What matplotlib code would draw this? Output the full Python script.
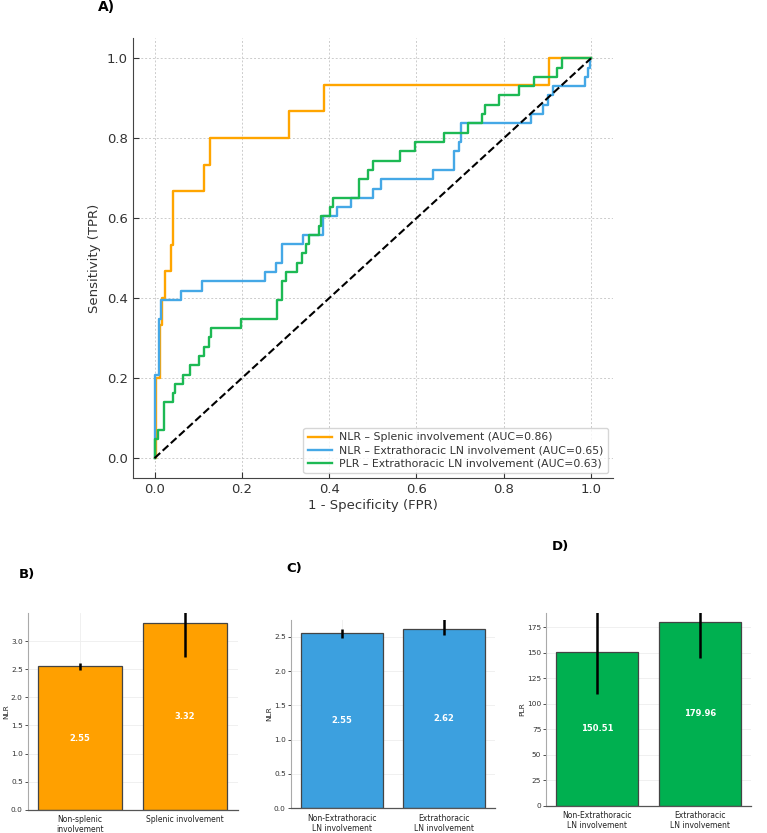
import matplotlib
matplotlib.use("Agg")
import matplotlib.pyplot as plt
import numpy as np

plt.rcParams['font.family'] = ['DejaVu Sans']

# ---------------- ROC data (corner points) ----------------
nlr_spl_fpr = [0, 0.003, 0.003, 0.012, 0.012, 0.018, 0.018, 0.024, 0.024, 0.038, 0.038, 0.042, 0.042,
               0.113, 0.113, 0.127, 0.127, 0.308, 0.308, 0.388, 0.388, 0.904, 0.904, 1.0]
nlr_spl_tpr = [0, 0, 0.200, 0.200, 0.333, 0.333, 0.400, 0.400, 0.467, 0.467, 0.533, 0.533, 0.667,
               0.667, 0.733, 0.733, 0.800, 0.800, 0.867, 0.867, 0.933, 0.933, 1.0, 1.0]

nlr_ext_fpr = [0, 0, 0.011, 0.011, 0.016, 0.016, 0.060, 0.060, 0.108, 0.108, 0.252, 0.252, 0.279, 0.279,
               0.291, 0.291, 0.340, 0.340, 0.386, 0.386, 0.418, 0.418, 0.451, 0.451, 0.500, 0.500,
               0.519, 0.519, 0.638, 0.638, 0.686, 0.686, 0.697, 0.697, 0.702, 0.702, 0.863, 0.863,
               0.891, 0.891, 0.902, 0.902, 0.912, 0.912, 0.986, 0.986, 0.992, 0.992, 0.998, 0.998, 1.0]
nlr_ext_tpr = [0, 0.209, 0.209, 0.349, 0.349, 0.395, 0.395, 0.419, 0.419, 0.442, 0.442, 0.465, 0.465, 0.488,
               0.488, 0.535, 0.535, 0.558, 0.558, 0.605, 0.605, 0.628, 0.628, 0.651, 0.651, 0.674,
               0.674, 0.698, 0.698, 0.721, 0.721, 0.767, 0.767, 0.791, 0.791, 0.837, 0.837, 0.860,
               0.860, 0.884, 0.884, 0.907, 0.907, 0.930, 0.930, 0.953, 0.953, 0.977, 0.977, 1.0, 1.0]

plr_ext_fpr = [0, 0, 0.008, 0.008, 0.021, 0.021, 0.043, 0.043, 0.048, 0.048, 0.066, 0.066, 0.082, 0.082,
               0.103, 0.103, 0.113, 0.113, 0.124, 0.124, 0.130, 0.130, 0.199, 0.199, 0.281, 0.281,
               0.292, 0.292, 0.302, 0.302, 0.327, 0.327, 0.338, 0.338, 0.347, 0.347, 0.355, 0.355,
               0.376, 0.376, 0.381, 0.381, 0.401, 0.401, 0.408, 0.408, 0.468, 0.468, 0.489, 0.489,
               0.500, 0.500, 0.563, 0.563, 0.597, 0.597, 0.664, 0.664, 0.719, 0.719, 0.751, 0.751,
               0.756, 0.756, 0.789, 0.789, 0.836, 0.836, 0.870, 0.870, 0.921, 0.921, 0.934, 0.934, 1.0]
plr_ext_tpr = [0, 0.047, 0.047, 0.070, 0.070, 0.140, 0.140, 0.163, 0.163, 0.186, 0.186, 0.209, 0.209, 0.233,
               0.233, 0.256, 0.256, 0.279, 0.279, 0.302, 0.302, 0.326, 0.326, 0.349, 0.349, 0.395,
               0.395, 0.442, 0.442, 0.465, 0.465, 0.488, 0.488, 0.512, 0.512, 0.535, 0.535, 0.558,
               0.558, 0.581, 0.581, 0.605, 0.605, 0.628, 0.628, 0.651, 0.651, 0.698, 0.698, 0.721,
               0.721, 0.744, 0.744, 0.767, 0.767, 0.791, 0.791, 0.814, 0.814, 0.837, 0.837, 0.860,
               0.860, 0.884, 0.884, 0.907, 0.907, 0.930, 0.930, 0.953, 0.953, 0.977, 0.977, 1.0, 1.0]

roc_labels = ["NLR – Splenic involvement (AUC=0.86)",
              "NLR – Extrathoracic LN involvement (AUC=0.65)",
              "PLR – Extrathoracic LN involvement (AUC=0.63)"]

# ---------------- Bar data ----------------
b_cats = ["Non-splenic\ninvolvement", "Splenic involvement"]
b_vals = [2.55, 3.32]
b_lo = [2.49, 2.71]
b_hi = [2.62, 3.60]

c_cats = ["Non-Extrathoracic\nLN involvement", "Extrathoracic\nLN involvement"]
c_vals = [2.55, 2.62]
c_lo = [2.49, 2.52]
c_hi = [2.62, 2.80]

d_cats = ["Non-Extrathoracic\nLN involvement", "Extrathoracic\nLN involvement"]
d_vals = [150.51, 179.96]
d_lo = [110.0, 145.0]
d_hi = [195.0, 195.0]

ORANGE = '#FFA000'
BLUE = '#3CA0DF'
GREEN = '#00B050'

fig = plt.figure(figsize=(7.67, 8.33), dpi=100)

# ---------------- Panel A ----------------
ax = fig.add_axes([0.173, 0.426, 0.626, 0.528])
ax.plot(nlr_spl_fpr, nlr_spl_tpr, color='#FFA500', lw=1.7, label=roc_labels[0])
ax.plot(nlr_ext_fpr, nlr_ext_tpr, color='#45A8E6', lw=1.7, label=roc_labels[1])
ax.plot(plr_ext_fpr, plr_ext_tpr, color='#1DB954', lw=1.7, label=roc_labels[2])
ax.plot([0, 1], [0, 1], color='black', lw=1.5, ls='--')
ax.set_xlim(-0.05, 1.05)
ax.set_ylim(-0.05, 1.05)
ax.set_xticks([0, 0.2, 0.4, 0.6, 0.8, 1.0])
ax.set_yticks([0, 0.2, 0.4, 0.6, 0.8, 1.0])
ax.grid(True, color='#cccccc', ls=(0, (2, 2)), lw=0.7)
ax.set_axisbelow(True)
for s in ['top', 'right']:
    ax.spines[s].set_visible(False)
for s in ['left', 'bottom']:
    ax.spines[s].set_color('#444444')
ax.tick_params(direction='in', labelsize=9.5, colors='#333333', length=4)
ax.set_xlabel("1 - Specificity (FPR)", fontsize=9.5, color='#333333', labelpad=2)
ax.set_ylabel("Sensitivity (TPR)", fontsize=9.5, color='#333333', labelpad=4)
leg = ax.legend(loc='lower right', fontsize=7.8, frameon=True, borderaxespad=0.45,
                handlelength=2.2, handletextpad=0.7, labelspacing=0.3, borderpad=0.4)
leg.get_frame().set_edgecolor('#cccccc')
for t in leg.get_texts():
    t.set_color('#333333')
fig.text(0.128, 0.991, "A)", fontsize=10, fontweight='bold', va='center', ha='left')


def bar_panel(rect, cats, vals, lo, hi, color, ylabel, ylim, yticks, fmt):
    a = fig.add_axes(rect)
    x = np.arange(len(cats))
    a.bar(x, vals, width=0.8, color=color, edgecolor='#444444', linewidth=0.9, zorder=2)
    yerr = [np.array(vals) - np.array(lo), np.array(hi) - np.array(vals)]
    a.errorbar(x, vals, yerr=yerr, fmt='none', ecolor='black', elinewidth=1.8, capsize=0, zorder=3)
    for xi, v in zip(x, vals):
        a.text(xi, v / 2, fmt.format(v), color='white', fontsize=6, fontweight='bold',
               ha='center', va='center', zorder=4)
    a.set_xlim(-0.5, 1.5)
    a.set_ylim(*ylim)
    a.set_yticks(yticks)
    a.set_xticks(x)
    a.set_xticklabels(cats, fontsize=5.5, color='#222222', linespacing=1.15)
    a.tick_params(axis='y', labelsize=5.3, colors='#333333', length=2, width=0.6, pad=1.5)
    a.tick_params(axis='x', length=0, pad=4)
    a.set_ylabel(ylabel, fontsize=5.3, color='#222222', labelpad=1.5)
    a.grid(True, color='#eeeeee', lw=0.6)
    a.set_axisbelow(True)
    for s in ['top', 'right']:
        a.spines[s].set_visible(False)
    a.spines['left'].set_color('#aaaaaa')
    a.spines['left'].set_linewidth(0.8)
    a.spines['bottom'].set_color('#555555')
    a.spines['bottom'].set_linewidth(0.9)
    return a


bar_panel([0.036, 0.028, 0.274, 0.236], b_cats, b_vals, b_lo, b_hi, ORANGE, "NLR",
          (0, 3.5), [0, 0.5, 1.0, 1.5, 2.0, 2.5, 3.0], "{:.2f}")
bar_panel([0.379, 0.030, 0.267, 0.226], c_cats, c_vals, c_lo, c_hi, BLUE, "NLR",
          (0, 2.75), [0, 0.5, 1.0, 1.5, 2.0, 2.5], "{:.2f}")
bar_panel([0.712, 0.033, 0.267, 0.231], d_cats, d_vals, d_lo, d_hi, GREEN, "PLR",
          (0, 189), [0, 25, 50, 75, 100, 125, 150, 175], "{:.2f}")

fig.text(0.024, 0.310, "B)", fontsize=9.5, fontweight='bold', va='center', ha='left')
fig.text(0.373, 0.318, "C)", fontsize=9.5, fontweight='bold', va='center', ha='left')
fig.text(0.720, 0.344, "D)", fontsize=9.5, fontweight='bold', va='center', ha='left')

fig.savefig("out.png", dpi=100)
